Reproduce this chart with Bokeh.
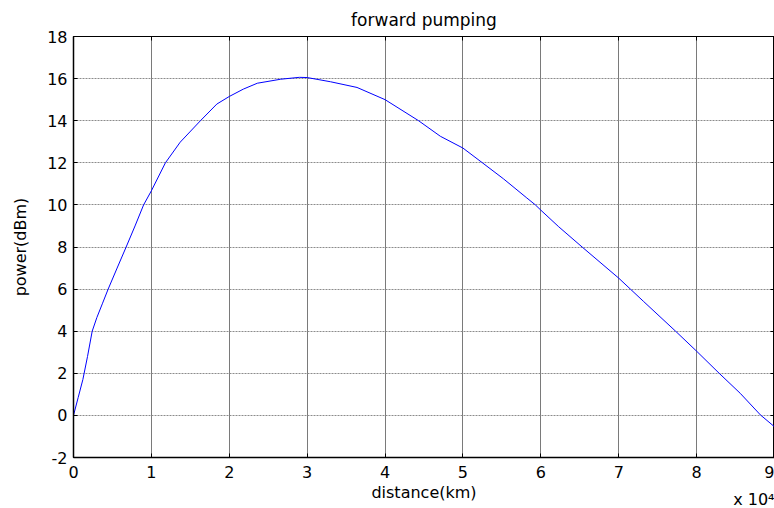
from bokeh.plotting import figure
from bokeh.models import LinearAxis, Title, FixedTicker, Range1d
from bokeh.embed import file_html
from bokeh.resources import INLINE

# distance in units of 1e4 km
distance = [0, 0.06, 0.12, 0.18, 0.24, 0.3, 0.37, 0.445, 0.56, 0.676, 0.79,
            0.9, 1.0, 1.18, 1.37, 1.63, 1.84, 2.0, 2.18, 2.36, 2.66, 2.9, 3.0,
            3.3, 3.64, 4.0, 4.43, 4.71, 5.0, 5.25, 5.52, 5.82, 5.93, 6.0, 6.23,
            6.53, 7.0, 7.15, 7.32, 7.73, 8.0, 8.29, 8.56, 8.82, 9.0]
power_dbm = [0, 0.85, 1.7, 2.8, 4.0, 4.65, 5.3, 6.0, 7.0, 8.0, 9.0,
             10.0, 10.67, 12.0, 12.98, 14.0, 14.79, 15.15, 15.5, 15.78, 15.97,
             16.06, 16.05, 15.85, 15.58, 15.0, 14.0, 13.26, 12.7, 12.0, 11.24,
             10.33, 10.0, 9.75, 8.96, 8.0, 6.52, 6.0, 5.41, 4.0, 3.05, 2.0,
             1.05, 0.02, -0.54]
x_ticks = [0, 1, 2, 3, 4, 5, 6, 7, 8, 9]
y_ticks = [-2, 0, 2, 4, 6, 8, 10, 12, 14, 16, 18]

FONT = "DejaVu Sans"

p = figure(width=774, height=508, output_backend="svg", toolbar_location=None,
           x_range=Range1d(0, 9), y_range=Range1d(-2, 18),
           min_border_left=73, min_border_right=0, min_border_top=34,
           min_border_bottom=51, background_fill_color="white",
           border_fill_color="white")

p.title.text = "forward pumping"
p.title.align = "center"
p.title.text_font = FONT
p.title.text_font_size = "17px"
p.title.text_font_style = "normal"
p.title.text_color = "black"
p.title.standoff = 14

p.line(distance, power_dbm, line_color="#0000ff", line_width=1)

for ax in (p.xaxis[0], p.yaxis[0]):
    ax.major_tick_in = 4
    ax.major_tick_out = 0
    ax.minor_tick_in = 0
    ax.minor_tick_out = 0
    ax.axis_line_color = "black"
    ax.axis_line_width = 1.5
    ax.major_tick_line_color = "black"
    ax.major_label_text_font = FONT
    ax.major_label_text_font_size = "16px"
    ax.major_label_text_color = "black"
    ax.axis_label_text_font = FONT
    ax.axis_label_text_font_size = "16px"
    ax.axis_label_text_font_style = "normal"
    ax.axis_label_text_color = "black"

p.xaxis[0].ticker = FixedTicker(ticks=x_ticks)
p.yaxis[0].ticker = FixedTicker(ticks=y_ticks)
p.yaxis[0].major_label_overrides = {-2: "-2"}
p.xaxis[0].axis_label = "distance(km)"
p.yaxis[0].axis_label = "power(dBm)"
p.xaxis[0].major_label_standoff = 8
p.yaxis[0].major_label_standoff = 6
p.xaxis[0].axis_label_standoff = 2
p.yaxis[0].axis_label_standoff = 14

top = LinearAxis(ticker=FixedTicker(ticks=x_ticks), major_tick_in=4, major_tick_out=0,
                 minor_tick_in=0, minor_tick_out=0, major_label_text_font_size="0px",
                 major_label_standoff=0, axis_line_color="black")
right = LinearAxis(ticker=FixedTicker(ticks=y_ticks), major_tick_in=4, major_tick_out=0,
                   minor_tick_in=0, minor_tick_out=0, major_label_text_font_size="0px",
                   major_label_standoff=0, axis_line_color="black")
p.add_layout(top, "above")
p.add_layout(right, "right")

p.outline_line_color = "black"

p.xgrid.ticker = FixedTicker(ticks=x_ticks)
p.ygrid.ticker = FixedTicker(ticks=y_ticks)
p.xgrid.grid_line_color = "#7a7a7a"
p.xgrid.grid_line_width = 1
p.ygrid.grid_line_color = "#8c8c8c"
p.ygrid.grid_line_dash = "2 1"
p.ygrid.grid_line_width = 1

exp_note = Title(text="x 10\u2074", align="right", vertical_align="top",
                 text_font=FONT, text_font_size="16px", text_font_style="normal",
                 text_color="black", standoff=-30, offset=0)
p.add_layout(exp_note, "below")

open("out.html", "w").write(file_html(p, INLINE))
